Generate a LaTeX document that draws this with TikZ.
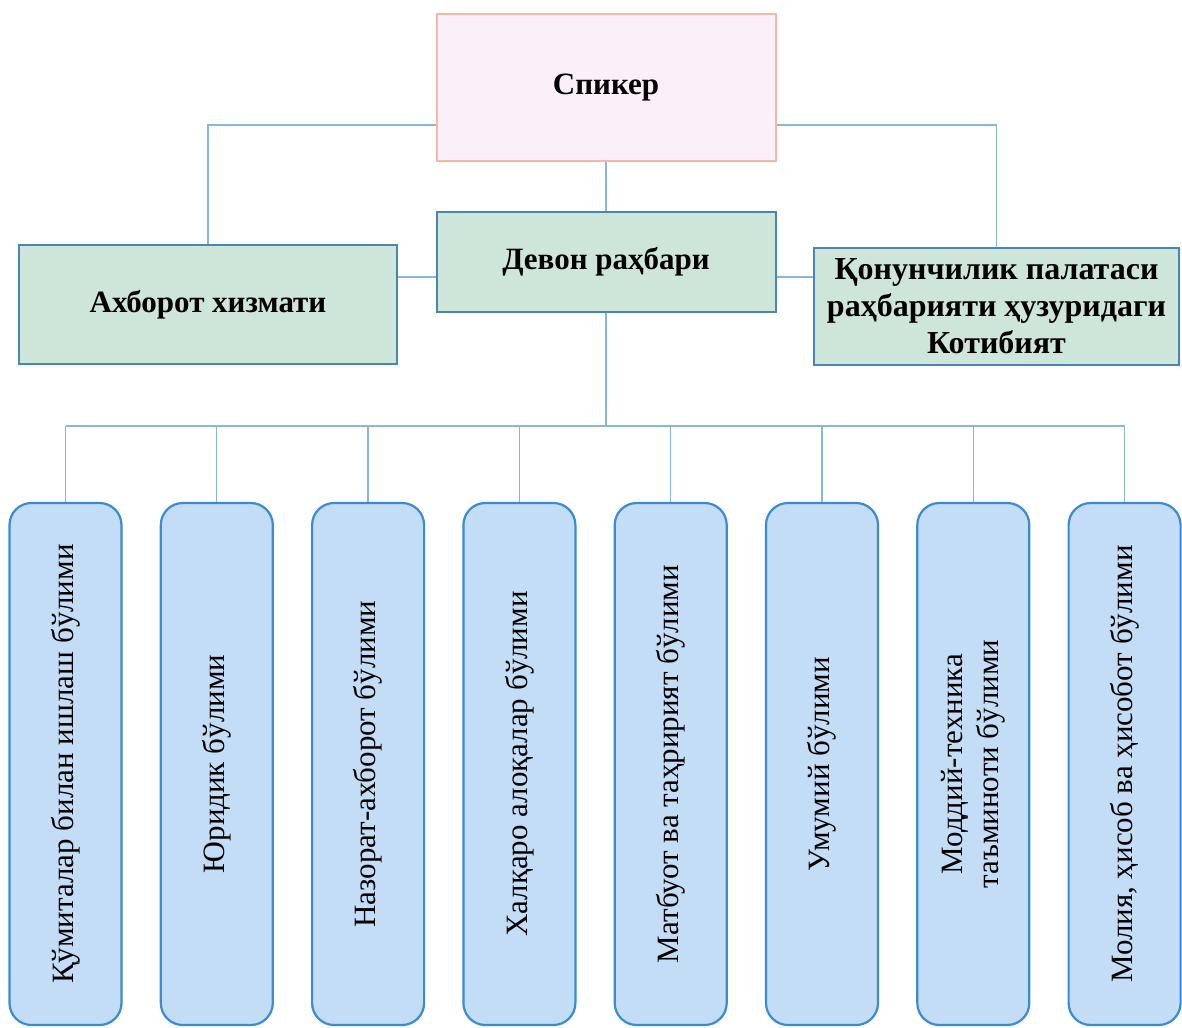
\documentclass[tikz,border=0pt]{standalone}
\usepackage{fontspec}
\setmainfont{Liberation Serif}

\definecolor{pinkfill}{HTML}{FBEFFA}
\definecolor{pinkline}{HTML}{F4B9A6}
\definecolor{greenfill}{HTML}{CEE6D9}
\definecolor{greenline}{HTML}{4A86B5}
\definecolor{bluefill}{HTML}{C4DDF6}
\definecolor{blueline}{HTML}{3A8AD4}
\definecolor{linkcol}{HTML}{8AB6DA}

\begin{document}
\begin{tikzpicture}[x=1pt,y=-1pt,
    conn/.style={color=linkcol, line width=1.3pt},
    topbox/.style={draw=pinkline, fill=pinkfill, line width=2pt, inner sep=0pt,
        font=\bfseries\fontsize{31}{36}\selectfont},
    headbox/.style={draw=greenline, fill=greenfill, line width=2pt, inner sep=0pt,
        align=center, font=\bfseries\fontsize{31}{37}\selectfont},
    deptbox/.style={draw=blueline, fill=bluefill, line width=2.2pt, rounded corners=22pt,
        rotate=90, minimum width=522pt, minimum height=112pt, inner sep=0pt,
        align=center, font=\fontsize{31}{36}\selectfont}]
    \def\busy{426}
    \def\dx{151.3}

    \useasboundingbox (0,0) rectangle (1182,1027);

    \node[topbox, minimum width=339pt, minimum height=147pt] (spiker) at (606,87.5) {Спикер};
    \node[headbox, minimum width=339pt, minimum height=100pt] (devon) at (606,262) {Девон раҳбари};
    \node[headbox, minimum width=378pt, minimum height=119pt] (axborot) at (208,304.5) {Ахборот хизмати};
    \node[headbox, minimum width=365pt, minimum height=117pt, font=\bfseries\fontsize{32}{37}\selectfont]
        (kotib) at (996.5,306.5) {Қонунчилик палатаси\\раҳбарияти ҳузуридаги\\Котибият};

    % upper links
    \draw[conn] ([yshift=-37.5pt]spiker.west) -| (axborot.north);
    \draw[conn] ([yshift=-37.5pt]spiker.east) -| (kotib.north);
    \draw[conn] (spiker.south) -- (devon.north);
    \draw[conn] ([yshift=-15pt]devon.west) -- ([yshift=-15pt]devon.west -| axborot.east);
    \draw[conn] ([yshift=-15pt]devon.east) -- ([yshift=-15pt]devon.east -| kotib.west);

    % departments
    \foreach \i/\txt in {1/{Қўмиталар билан ишлаш бўлими},
                         2/{Юридик бўлими},
                         3/{Назорат-ахборот бўлими},
                         4/{Халқаро алоқалар бўлими},
                         5/{Матбуот ва таҳририят бўлими},
                         6/{Умумий бўлими},
                         7/{Моддий-техника\\таъминоти бўлими},
                         8/{Молия, ҳисоб ва ҳисобот бўлими}}
    {
        \node[deptbox] (b\i) at ({65.5+\dx*(\i-1)},764) {\txt};
        \draw[conn] (b\i.east) -- (b\i.east |- 0,\busy);
    }

    \coordinate (bus) at (devon.south |- 0,\busy);
    \draw[conn] (devon.south) -- (bus);
    \draw[conn] (b1.east |- bus) -- (b8.east |- bus);

\end{tikzpicture}
\end{document}
